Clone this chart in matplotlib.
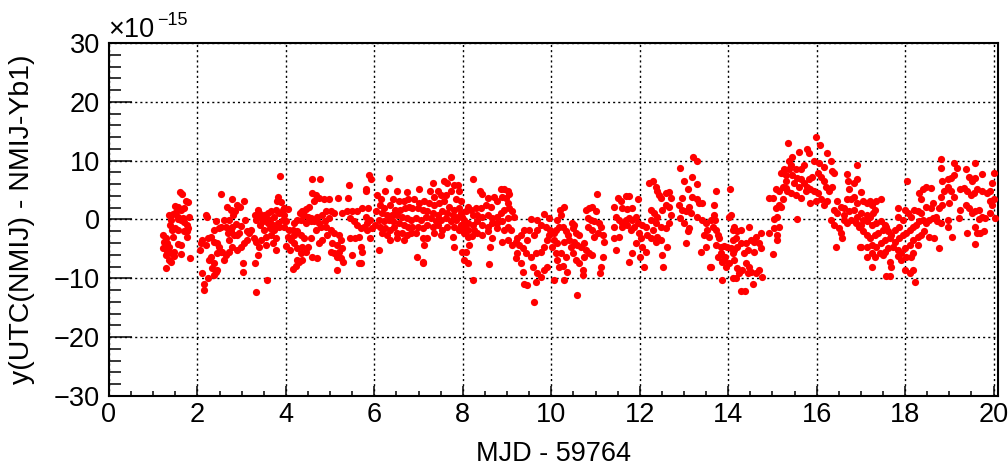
import matplotlib.pyplot as plt
import numpy as np
from matplotlib.ticker import MultipleLocator

# frequency offset y, in units of 1e-15 (MJD - 59764, y)
pts_a = [(1.61, 4.6), (1.66, 4.4), (1.49, 2.3), (1.56, 2.1), (1.74, 3.1), (1.79, 3.0), (1.70, 1.9),
         (1.36, 0.8), (1.44, 1.0), (1.52, 1.2), (1.62, 1.6), (1.56, 0.4), (1.68, 0.2), (1.81, 0.5),
         (1.55, 0.1), (1.62, -0.1), (1.41, -0.1), (1.70, -0.5), (1.76, -0.9), (1.79, -1.5), (1.49, -1.5),
         (1.43, -1.8), (1.55, -1.8), (1.70, -2.0), (1.76, -2.9), (1.22, -2.6), (1.28, -3.2), (1.25, -3.8),
         (1.32, -4.0), (1.44, -3.0), (1.36, -4.6), (1.23, -4.8), (1.32, -5.3), (1.28, -6.0), (1.40, -5.7),
         (1.47, -5.5), (1.56, -4.1), (1.62, -4.3), (1.46, -6.2), (1.62, -5.9), (1.36, -6.9), (1.40, -7.2),
         (1.30, -8.3), (1.83, -6.5), (1.77, -2.0), (1.38, -0.9)]

pts_b = [(2.21, 0.5), (2.19, 0.8), (2.53, 4.3), (2.41, -0.3), (2.79, 3.5), (3.05, 3.1), (2.90, 2.5),
         (2.66, 2.1), (2.75, 1.6), (2.85, 1.4), (2.96, 2.1), (2.81, 0.8), (2.72, -0.1), (2.60, -0.1),
         (2.53, -1.2), (2.49, -1.5), (2.38, -1.8), (2.64, -1.2), (2.79, -1.2), (2.87, -0.7), (2.98, -1.1),
         (3.07, -0.1), (3.13, -1.9), (3.17, -2.3), (3.21, -1.8), (3.30, 0.8), (3.36, 1.6), (3.39, 1.1),
         (3.33, -0.1), (3.42, -0.9), (3.28, -3.2), (3.32, -3.9), (3.39, -4.6), (3.36, -6.0), (3.30, -7.4),
         (3.33, -12.3), (2.08, -4.0), (2.06, -5.2), (2.11, -3.5), (2.19, -4.3), (2.24, -3.2), (2.30, -2.9),
         (2.38, -3.8), (2.44, -4.0), (2.49, -4.6), (2.53, -5.5), (2.45, -5.7), (2.30, -6.3), (2.26, -6.9),
         (2.38, -7.4), (2.34, -8.3), (2.41, -8.9), (2.38, -9.4), (2.15, -10.9), (2.15, -12.0), (2.11, -9.1),
         (2.24, -10.0), (2.45, -8.6), (2.56, -5.5), (2.64, -6.0), (2.60, -6.9), (2.72, -5.5), (2.79, -4.6),
         (2.90, -5.2), (2.98, -4.6), (3.05, -4.0), (3.13, -3.5), (3.02, -7.4), (3.04, -8.9), (2.72, -3.5),
         (2.83, -2.6), (2.90, -2.6), (2.94, -2.3), (2.68, -2.3), (2.75, -2.0)]

pts_c = [(3.87, 7.4), (3.83, 3.8), (3.80, 3.1), (3.89, 2.9), (3.96, 1.9), (4.04, 1.8), (3.93, 1.6),
         (3.78, 1.6), (3.66, 1.4), (3.59, 1.1), (3.51, 0.8), (3.44, 0.5), (3.55, 0.2), (3.63, -0.1),
         (3.74, 0.5), (3.85, 1.1), (3.96, 0.8), (3.48, -0.3), (3.59, -0.6), (3.70, -0.9), (3.81, -0.6),
         (3.93, -0.1), (4.00, -0.3), (3.51, -1.8), (3.63, -1.5), (3.74, -1.8), (3.85, -1.2), (3.96, -1.2),
         (4.07, -1.8), (3.55, -2.9), (3.66, -2.6), (3.78, -3.2), (3.44, -3.5), (3.55, -4.3), (3.70, -4.0),
         (3.78, -5.2), (3.57, -10.3), (4.04, -2.9), (4.00, -4.5), (4.11, -3.5), (4.10, -5.2), (4.15, -8.4),
         (4.22, -7.9), (4.26, -6.9), (4.19, -2.6), (4.19, -4.0), (4.26, -4.9),
         (4.58, 6.9), (4.76, 6.9), (4.60, 4.5), (4.67, 4.2), (4.75, 3.6), (4.85, 3.4), (4.97, 3.4),
         (4.64, 3.1), (4.52, 2.2), (4.45, 1.8), (4.37, 1.5), (4.32, 1.1), (4.41, 0.8), (4.49, 0.5),
         (4.56, 0.2), (4.71, 0.5), (4.82, 0.8), (4.90, 1.4), (5.01, 1.4), (5.09, 1.1), (4.97, 0.2),
         (4.88, -0.3), (4.75, -0.6), (4.64, -0.3), (4.56, -0.3), (4.45, -0.6), (4.34, -0.1), (4.26, -0.1),
         (4.19, -0.6), (4.15, -1.8), (4.26, -2.0), (4.34, -2.6), (4.41, -3.2), (4.56, -3.2), (4.67, -1.8),
         (4.79, -1.2), (4.90, -1.2), (5.01, -1.8), (5.09, -2.3), (5.20, -2.6), (5.18, 3.6), (5.41, 3.6),
         (5.43, 5.9), (5.27, 1.1), (5.39, 1.4), (5.50, 1.5), (5.60, 1.5), (5.46, 0.2), (5.54, -0.3),
         (5.61, -0.9), (5.69, -1.5), (5.76, -1.2), (5.84, -0.6), (5.91, -0.1), (5.80, 0.5), (5.72, 1.9),
         (5.85, 1.9), (5.81, 4.8), (5.81, 5.1), (5.87, 7.6), (5.93, 6.8), (5.46, -3.2), (5.57, -3.2),
         (5.65, -2.9), (5.69, -4.6), (5.72, -5.5), (5.50, -6.0), (5.65, -7.4), (5.69, -7.4), (5.27, -4.9),
         (5.20, -5.5), (5.15, -6.3), (5.09, -5.7), (5.01, -5.5), (5.24, -6.6), (5.30, -7.2), (5.15, -8.6),
         (5.05, -4.0), (5.16, -4.3), (5.24, -3.5), (4.94, -2.6), (4.82, -3.5), (4.75, -4.0), (4.60, -6.3),
         (4.45, -5.6), (4.71, -6.6), (4.34, -5.7), (4.37, -6.9), (4.30, -7.2), (4.49, -4.6), (4.37, -4.6),
         (6.34, 7.0), (6.25, 4.9), (6.51, 4.9), (6.73, 4.6), (6.06, 4.2), (6.15, 3.4), (6.42, 3.4),
         (6.55, 3.1), (6.66, 3.1), (6.77, 3.4), (6.12, 2.5), (6.21, 1.9), (6.36, 2.5), (6.47, 1.6),
         (6.58, 1.6), (6.70, 1.9), (6.79, 2.1), (6.04, 1.4), (6.17, 1.1), (6.28, 0.8), (6.40, 0.8),
         (6.51, 0.8), (6.62, 0.5), (6.73, 0.2), (6.10, -0.1), (6.21, -0.3), (6.32, -0.1), (6.43, -0.3),
         (6.55, -0.6), (6.66, -0.9), (6.77, -1.2), (6.02, -0.9), (6.13, -1.2), (6.25, -1.5), (6.36, -1.8),
         (6.51, -2.3), (6.62, -2.3), (6.73, -2.6), (5.95, -1.5), (5.84, -1.8), (5.91, -3.2), (6.10, -5.2),
         (6.36, -3.5), (6.51, -3.2), (6.66, -3.5), (6.17, -2.3), (6.28, -2.6), (6.45, -1.2)]

pts_d = [(7.02, 5.1), (7.32, 6.2), (7.58, 6.5), (7.73, 7.2), (7.65, 6.2), (7.80, 5.9), (7.88, 5.9),
         (7.92, 4.8), (7.43, 4.8), (7.26, 4.9), (7.35, 3.9), (7.50, 4.2), (7.62, 4.2), (7.73, 4.8),
         (7.84, 3.4), (7.95, 3.1), (6.90, 3.4), (7.02, 2.8), (7.13, 3.1), (7.24, 2.8), (7.35, 2.5),
         (7.47, 2.8), (7.58, 3.1), (7.69, 2.2), (7.80, 1.6), (7.92, 1.9), (6.86, 1.9), (6.98, 1.9),
         (7.09, 1.6), (7.20, 1.4), (7.32, 1.1), (7.43, 0.8), (7.54, 1.4), (7.65, 1.1), (7.77, 0.8),
         (7.88, 0.5), (7.95, 1.1), (6.83, -0.1), (6.94, 0.2), (7.05, -0.1), (7.17, 0.5), (7.28, 0.2),
         (7.39, -0.3), (7.50, -0.1), (7.62, 0.2), (7.73, -0.3), (7.84, -0.1), (7.95, -0.9), (6.86, -1.2),
         (6.98, -1.2), (7.09, -1.5), (7.20, -0.9), (7.32, -1.2), (7.43, -0.9), (7.54, -1.8), (7.65, -1.2),
         (7.80, -1.2), (7.92, -1.8), (6.83, -2.3), (6.94, -2.3), (7.09, -3.2), (7.20, -3.2), (7.50, -2.6),
         (7.35, -2.3), (7.77, -2.9), (7.80, -4.6), (7.13, -4.3), (6.96, -6.3), (7.09, -7.4), (7.11, -7.2),
         (7.95, -1.2),
         (8.24, 6.9), (8.38, 4.8), (8.44, 4.4), (8.57, 3.6), (8.71, 3.8), (8.86, 5.2), (8.93, 5.1),
         (9.01, 4.8), (9.05, 4.4), (8.89, 3.9), (8.97, 3.6), (9.01, 2.8), (8.78, 3.1), (8.63, 2.2),
         (8.52, 2.5), (8.41, 1.9), (8.29, 1.9), (8.18, 1.6), (8.11, 2.1), (8.07, 1.4), (8.22, 0.8),
         (8.33, 0.8), (8.44, 0.5), (8.56, 0.8), (8.67, 0.2), (8.78, 0.5), (8.86, 1.1), (8.93, 1.6),
         (9.05, 1.9), (9.12, 1.4), (9.16, 0.5), (9.01, 0.2), (8.89, -0.3), (8.78, -0.6), (8.67, -0.6),
         (8.56, -1.2), (8.44, -0.9), (8.33, -0.3), (8.22, -0.9), (8.11, -0.6), (8.03, -0.1), (7.99, 0.5),
         (8.02, -1.2), (8.11, -1.8), (8.26, -1.8), (8.33, -2.3), (8.44, -2.6), (8.56, -2.0), (8.67, -3.2),
         (8.78, -1.5), (8.93, -1.8), (9.01, -1.2), (9.08, -1.8), (9.23, -3.2), (9.20, -3.8), (9.27, -4.3),
         (9.31, -2.6), (9.38, -1.8), (9.50, -1.8), (9.53, 0.1), (9.68, -0.1), (9.61, -2.6), (9.46, -3.5),
         (9.35, -4.9), (9.23, -5.7), (9.42, -5.7), (9.53, -6.3), (9.65, -5.7), (9.76, -5.5), (9.83, -4.6),
         (9.91, -3.5), (9.95, -2.6), (9.98, -1.8), (9.87, -1.2), (9.76, -0.9), (9.68, -1.8), (8.03, -2.3),
         (8.11, -2.9), (8.20, -2.8), (8.14, -4.3), (8.07, -5.5), (8.03, -6.9), (8.11, -7.4), (7.99, -5.5),
         (8.62, -4.6), (8.59, -7.6), (8.88, -3.9), (9.03, -3.4), (9.12, -4.3), (9.20, -6.6), (9.31, -7.4),
         (9.35, -8.9), (9.38, -10.9), (9.44, -11.1), (9.59, -8.0), (9.68, -9.1), (9.65, -10.6), (9.76, -9.8),
         (9.83, -8.6), (9.91, -8.0), (9.61, -14.0), (8.24, -10.2), (9.83, 1.0), (9.95, 0.2),
         (10.06, -2.3), (10.10, -1.8), (10.17, -1.2), (10.14, -0.1), (10.20, 1.6), (10.06, -3.5),
         (10.14, -4.0), (10.10, -5.7), (10.14, -6.9), (10.05, -10.2), (10.17, -8.0), (10.02, -4.6)]

pts_e = [(10.29, 2.1), (10.23, 0.8), (10.26, -1.2), (10.33, -2.0), (10.37, -2.6), (10.28, -3.8),
         (10.41, -3.5), (10.44, -4.6), (10.22, -5.7), (10.33, -6.3), (10.26, -7.9), (10.29, -10.3),
         (10.35, -8.9), (10.46, -0.6), (10.52, -0.9), (10.48, -1.5), (10.56, -2.3), (10.63, -2.6),
         (10.52, -3.8), (10.59, -4.3), (10.67, -4.6), (10.74, -4.0), (10.48, -5.7), (10.56, -6.9),
         (10.63, -7.4), (10.71, -8.6), (10.71, -9.4), (10.59, -12.8), (10.78, 1.6), (10.86, 1.9),
         (10.93, 2.1), (11.01, 1.5), (11.03, 4.4), (10.82, 0.2), (10.89, -0.1), (10.97, -0.3),
         (11.08, -0.6), (11.12, -1.2), (10.82, -1.2), (10.93, -1.8), (11.05, -2.3), (11.16, -2.6),
         (10.97, -2.9), (10.78, -5.2), (10.86, -5.7), (10.74, -6.3), (10.93, -6.0), (11.20, -3.9),
         (11.16, -6.3), (11.12, -8.0), (11.11, -9.1), (11.41, 2.1), (11.50, 3.6), (11.57, 3.1),
         (11.68, 4.0), (11.76, 4.0), (11.61, 1.9), (11.72, 1.8), (11.83, 1.9), (11.46, 0.5), (11.53, -0.1),
         (11.61, -0.6), (11.68, -0.1), (11.76, 0.2), (11.83, -0.1), (11.91, 0.5), (11.61, -1.2),
         (11.72, -0.9), (11.80, -1.8), (11.87, -1.2), (11.97, 3.5), (11.42, -1.2), (11.42, -3.2),
         (11.53, -2.9), (11.46, -5.2), (11.76, -7.2), (11.83, -5.7), (11.95, -0.6), (11.98, -2.3),
         (11.91, -4.0), (12.02, -3.2), (12.06, -4.6), (12.14, -5.5), (12.10, -8.0), (12.01, -6.3),
         (12.06, -0.9), (12.14, -1.2), (12.20, 6.2), (12.29, 6.6), (12.36, 5.6), (12.40, 4.8), (12.44, 4.2),
         (12.47, 3.6), (12.59, 4.5), (12.66, 4.6), (12.70, 3.6), (12.25, 1.6), (12.32, 1.1), (12.40, 0.5),
         (12.51, 1.6), (12.59, 2.5), (12.66, 2.2), (12.70, 0.8), (12.25, -0.1), (12.36, -0.6), (12.47, -1.2),
         (12.59, -1.5), (12.66, -0.6), (12.29, -1.8), (12.40, -2.9), (12.47, -3.5), (12.17, -2.6),
         (12.25, -3.2), (12.36, -3.8), (12.62, -4.6), (12.51, -6.0), (12.53, -8.0), (12.92, 8.8),
         (13.00, 6.6), (13.08, 5.1), (12.96, 3.6), (13.19, 7.3), (13.21, 10.7), (13.29, 9.9), (13.30, 6.0),
         (13.19, 3.8), (13.34, 2.8), (13.41, 2.8), (13.11, 2.2), (13.04, 1.4), (13.15, 1.1), (12.92, 0.2),
         (13.00, -0.6), (13.11, -1.5), (13.08, -2.0), (13.04, -4.0), (13.30, 0.5), (13.41, -0.1),
         (13.49, -0.6), (13.53, -1.8), (13.56, -2.9), (13.45, -2.6), (13.49, -4.6), (13.38, -5.5),
         (13.59, -8.0), (12.89, 2.5), (12.96, 1.6), (13.30, 3.4)]

pts_f = [(13.72, 4.9), (13.68, 2.5), (13.67, 0.8), (13.70, -0.1), (13.61, -0.1), (13.65, -1.2),
         (13.72, -1.8), (13.76, -2.6), (13.80, -3.2), (13.72, -4.3), (13.83, -4.6), (13.91, -4.5),
         (13.76, -6.3), (13.83, -5.7), (13.91, -6.9), (13.87, -10.3), (13.98, -4.6), (14.05, 5.1),
         (14.02, 0.5), (14.06, 0.8), (14.10, -1.8), (14.14, -1.2), (14.21, -2.0), (14.29, -1.8),
         (14.17, -3.2), (14.10, -3.5), (14.06, -4.9), (14.14, -5.2), (14.21, -4.6), (14.29, -4.0),
         (14.40, -4.0), (14.47, -1.2), (14.51, -3.5), (14.59, -3.8), (14.62, -2.9), (14.74, -2.3),
         (14.70, -4.0), (14.74, -4.9), (14.59, -5.6), (14.44, -5.2), (14.36, -5.7), (14.10, -5.7),
         (14.14, -6.9), (14.02, -7.4), (13.95, -8.0), (14.21, -8.3), (14.25, -9.1), (14.32, -8.6),
         (14.40, -7.4), (14.47, -8.0), (14.51, -8.9), (14.44, -9.1), (14.55, -10.9), (14.62, -9.1),
         (14.70, -8.6), (14.77, -9.7), (14.17, -10.0), (14.29, -12.1), (14.38, -12.1), (14.10, -10.0),
         (13.61, -8.0), (13.87, -7.2), (13.92, -6.3), (14.92, 3.6), (15.02, 3.6), (15.04, 0.1),
         (15.08, 1.9), (15.15, 2.5), (15.19, 2.2), (15.23, 3.4), (15.11, 0.5), (15.15, -1.2), (15.04, -1.5),
         (15.10, -2.6), (15.11, -3.5), (15.02, -5.9), (14.92, -2.3), (15.56, 0.1), (15.08, 5.1),
         (15.15, 4.8), (15.23, 5.6), (15.30, 5.3), (15.34, 4.8), (15.41, 4.5), (15.53, 4.2), (15.64, 3.6),
         (15.86, 2.8), (15.98, 3.1), (15.30, 6.5), (15.23, 7.9), (15.38, 8.5), (15.45, 7.6), (15.56, 7.0),
         (15.64, 6.8), (15.71, 6.2), (15.79, 5.6), (15.86, 5.1), (15.94, 4.8), (16.02, 4.5), (15.83, 6.8),
         (15.90, 7.3), (16.02, 7.9), (16.09, 7.3), (16.17, 6.5), (16.20, 5.6), (16.28, 4.8), (16.35, 5.6),
         (16.24, 3.1), (16.17, 2.5), (16.09, 3.4), (15.38, 9.9), (15.45, 10.7), (15.60, 11.4), (15.35, 13.0),
         (15.79, 11.9), (15.83, 11.3), (15.98, 14.0), (16.08, 12.7), (16.24, 11.3), (16.32, 9.9),
         (16.35, 8.2), (16.17, 9.0), (16.05, 9.6), (15.94, 9.9), (15.71, 9.3), (15.64, 8.5), (15.53, 8.5),
         (15.41, 9.3), (15.26, 8.5), (15.19, 7.9), (15.30, 7.6), (15.49, 6.2), (15.60, 5.6), (15.75, 4.8),
         (16.39, 7.9), (16.69, 7.7), (16.71, 6.5), (16.73, 5.1), (16.84, 6.2), (16.92, 6.8), (16.92, 9.3),
         (16.47, 3.1), (16.54, 2.2), (16.62, 1.9), (16.69, 3.4), (16.77, 3.4), (16.84, 3.9), (16.92, 2.8),
         (16.39, 1.6), (16.47, 1.1), (16.62, 0.8), (16.73, 1.4), (16.84, 1.6), (16.92, 0.5), (16.32, -0.1),
         (16.39, -0.9), (16.50, -1.5), (16.54, -2.3), (16.58, -3.2), (16.43, -4.6), (16.77, -0.1),
         (16.69, -0.6), (16.62, -0.1), (16.88, -0.6), (16.95, -1.2), (16.98, -4.6)]

pts_g = [(17.01, 4.6), (17.05, 3.1), (17.13, 2.8), (17.20, 3.1), (17.25, 2.5), (17.35, 3.1), (17.46, 3.5),
         (17.01, 1.1), (17.13, 0.8), (17.20, 0.5), (17.31, 1.6), (17.28, 1.1), (17.05, -0.1), (17.01, -0.9),
         (17.13, -0.3), (17.24, -0.9), (17.35, -0.6), (17.46, -0.3), (17.54, -0.9), (17.57, -1.2),
         (17.05, -2.0), (17.13, -2.6), (17.20, -3.2), (17.31, -2.6), (17.39, -2.3), (17.50, -1.8),
         (17.61, -2.0), (17.69, -2.6), (17.76, -1.8), (17.87, -1.2), (17.84, 0.4), (17.95, -0.1),
         (17.84, 1.9), (17.99, 1.6), (18.06, 1.1), (18.13, 0.5), (18.21, 1.6), (18.28, 1.4), (18.36, 1.1),
         (17.13, -4.6), (17.01, -4.6), (17.24, -4.3), (17.35, -4.6), (17.46, -4.0), (17.54, -3.5),
         (17.65, -3.2), (17.76, -3.8), (17.87, -3.2), (17.95, -2.6), (18.02, -2.3), (18.10, -1.8),
         (18.17, -1.2), (18.25, -0.9), (18.32, -0.3), (18.40, -0.1), (18.47, -0.6), (18.54, -0.1),
         (18.62, 0.2), (18.69, 0.5), (18.73, -0.3), (18.81, -0.6), (17.13, -6.3), (17.24, -5.7),
         (17.31, -6.3), (17.43, -5.7), (17.54, -5.5), (17.61, -4.9), (17.72, -4.6), (17.84, -5.2),
         (17.91, -5.7), (17.99, -4.9), (18.10, -4.3), (18.17, -3.5), (18.28, -2.9), (18.36, -2.6),
         (18.43, -2.0), (18.54, -2.9), (18.66, -3.2), (18.77, -4.9), (18.96, -1.2), (19.07, -2.9),
         (18.96, -0.1), (18.28, -4.3), (18.17, -5.7), (18.13, -6.3), (18.02, -6.3), (17.91, -6.9),
         (17.84, -6.2), (17.65, -7.2), (17.69, -8.0), (17.50, -6.0), (17.24, -8.0), (17.57, -9.6),
         (17.65, -9.6), (17.99, -8.6), (18.10, -9.1), (18.17, -8.5), (18.23, -10.7), (18.04, 6.5),
         (18.32, 4.5), (18.40, 5.1), (18.47, 5.6), (18.58, 5.3), (18.36, 3.4), (18.47, 2.2), (18.58, 1.9),
         (18.62, 2.8), (18.77, 1.9), (18.84, 2.5), (18.81, 3.9), (18.88, 4.8), (18.84, 6.5), (18.96, 6.8),
         (19.03, 7.0), (19.10, 7.6), (19.18, 8.8), (19.10, 9.6), (18.81, 10.3), (18.81, 8.8), (18.96, 5.6),
         (19.03, 4.8), (19.10, 3.9), (18.99, 2.8), (19.25, 5.1), (19.33, 5.3), (19.40, 4.8), (19.48, 4.2),
         (19.55, 4.5), (19.63, 5.1), (19.74, 4.8), (19.85, 4.5), (19.93, 4.8), (19.44, 7.3), (19.51, 6.5),
         (19.59, 7.0), (19.37, 8.5), (19.59, 9.6), (19.74, 7.8), (20.00, 7.9), (19.96, 6.2), (19.25, 1.6),
         (19.37, 2.5), (19.44, 1.9), (19.51, 1.1), (19.59, 1.4), (19.66, 1.6), (19.74, 0.5), (19.81, 0.2),
         (19.93, 1.1), (19.96, 2.5), (20.00, 3.4), (19.93, 3.1), (20.03, 0.2), (19.22, 0.2), (19.40, -2.3),
         (19.59, -1.2), (19.63, -2.3), (19.70, -2.3), (19.59, -4.1), (19.78, -2.0), (19.66, 0.0)]

x_label = 'MJD - 59764'
y_label = 'y(UTC(NMIJ) - NMIJ-Yb1)'

plt.rcParams['font.family'] = ['Liberation Sans', 'DejaVu Sans']

pts = np.array(pts_a + pts_b + pts_c + pts_d + pts_e + pts_f + pts_g)

fig = plt.figure(figsize=(10.08, 4.67), dpi=100)
ax = fig.add_axes([109 / 1008, 71 / 467, 889 / 1008, 353 / 467])
ax.plot(pts[:, 0], pts[:, 1], 'o', color='#ff0000', ms=5.2, mew=0, zorder=3)

ax.set_xlim(0, 20.1)
ax.set_ylim(-30, 30)
ax.set_xticks(np.arange(0, 21, 2))
ax.set_yticks(np.arange(-30, 31, 10))
ax.xaxis.set_minor_locator(MultipleLocator(0.5))
ax.yaxis.set_minor_locator(MultipleLocator(2))

ax.tick_params(which='both', direction='in', top=False, right=False, colors='black', labelsize=19.5, width=1.1)
ax.tick_params(axis='y', which='major', length=16.6, pad=6.5)
ax.tick_params(axis='y', which='minor', length=8.6)
ax.tick_params(axis='x', which='major', length=7.5, pad=4)
ax.tick_params(axis='x', which='minor', length=3.6)
ax.grid(True, which='major', color='black', linestyle=(0, (1.5, 2.2)), linewidth=1.0)
for s in ax.spines.values():
    s.set_linewidth(1.5)

ax.set_xlabel(x_label, fontsize=19.5)
ax.set_ylabel(y_label, fontsize=20.5)
ax.xaxis.set_label_coords(0.5, -0.127)
ax.yaxis.set_label_coords(-0.083, 0.5)

# exponent written above the top-left corner, ROOT style
fig.text(108 / 1008, 1 - 37 / 467, '\u00d710', fontsize=19.5, va='baseline', ha='left')
fig.text(157 / 1008, 1 - 25 / 467, '\u221215', fontsize=13, va='baseline', ha='left')

fig.savefig('out.png', dpi=100)
